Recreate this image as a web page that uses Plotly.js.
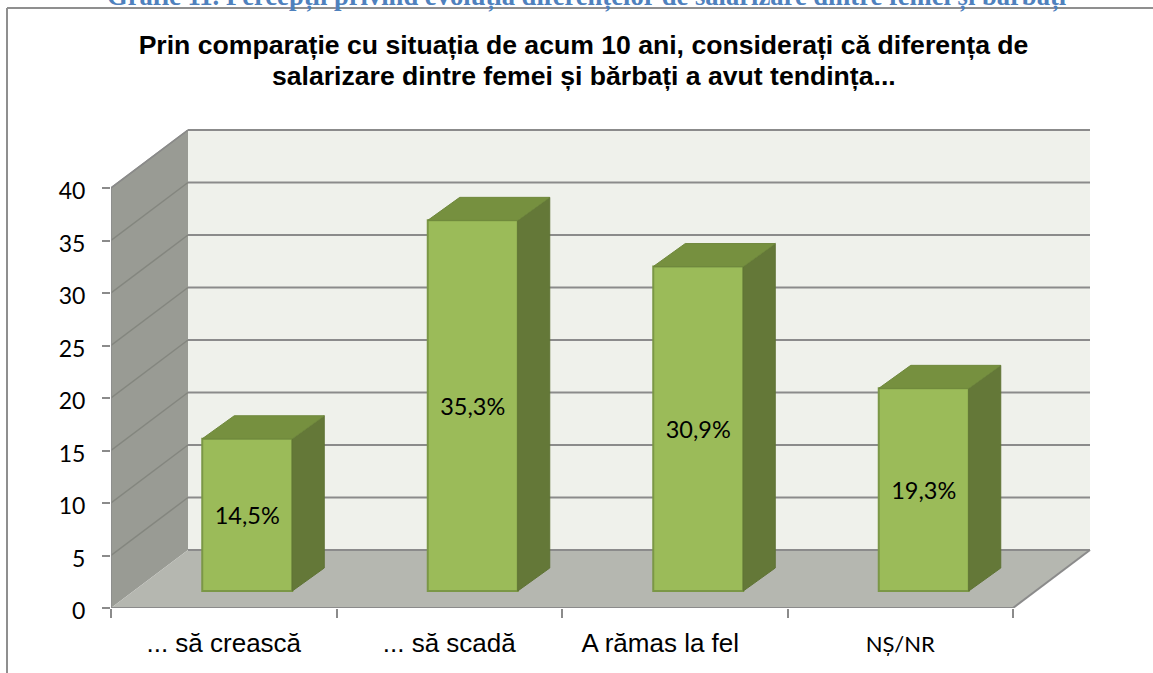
<!DOCTYPE html>
<html><head><meta charset="utf-8">
<script src="https://cdn.plot.ly/plotly-3.0.1.min.js"></script>
<style>html,body{margin:0;padding:0;background:#fff;overflow:hidden}#c{width:1153px;height:673px}</style>
</head><body><div id="c"></div>
<script>
var categories = ['... să crească', '... să scadă', 'A rămas la fel', 'NȘ/NR'];
var values = [14.5, 35.3, 30.9, 19.3];
var valueLabels = ['14,5%', '35,3%', '30,9%', '19,3%'];
var yTicks = [0, 5, 10, 15, 20, 25, 30, 35, 40];
var titleLine1 = 'Prin comparație cu situația de acum 10 ani, considerați că diferența de';
var titleLine2 = 'salarizare dintre femei și bărbați a avut tendința...';
var pageHeading = 'Grafic 11. Percepții privind evoluția diferențelor de salarizare dintre femei și bărbați';

// scale in pixels per unit, used to express the oblique projection
var PXX = 225.5, PXY = 10.5;
var L = 111, R = 1100, T = 120, B = 608, W = 1153, H = 673;
var depthX = 77 / PXX, depthY = 58 / PXY;       // wall depth in axis units
var barOffX = 23.5 / PXX, barOffY = 17 / PXY;   // bar front plane
var barDX = 32 / PXX, barDY = 23 / PXY;         // bar depth
var barW = 90 / PXX;
var yMax = 40, nCat = categories.length;

var AXIS = '#8b8b8b', WALLLINE = '#84867f';
function poly(pts, fill, line, lw) {
  return {type: 'path', xref: 'x', yref: 'y', layer: 'below',
    path: 'M' + pts.map(function (p) { return p[0] + ',' + p[1]; }).join('L') + 'Z',
    fillcolor: fill, line: {color: line || fill, width: lw === undefined ? 0 : lw}};
}
function seg(a, b, c, w) {
  return {type: 'line', xref: 'x', yref: 'y', layer: 'below', x0: a[0], y0: a[1], x1: b[0], y1: b[1], line: {color: c, width: w}};
}

var shapes = [];
// back wall
shapes.push(poly([[depthX, depthY], [nCat + depthX, depthY], [nCat + depthX, depthY + yMax], [depthX, depthY + yMax]], '#eff1eb'));
// side wall
shapes.push(poly([[0, 0], [depthX, depthY], [depthX, depthY + yMax], [0, yMax]], '#999b94'));
// floor
shapes.push(poly([[0, 0], [nCat, 0], [nCat + depthX, depthY], [depthX, depthY]], '#b5b7b0'));
yTicks.forEach(function (v) {
  if (v > 0) shapes.push(seg([0, v], [depthX, depthY + v], WALLLINE, 1.5));
  shapes.push(seg([depthX, depthY + v], [nCat + depthX, depthY + v], AXIS, 2));
});
shapes.push(seg([nCat, 0], [nCat + depthX, depthY], AXIS, 2));
// page frame: top and left rules
var fx = (7 - L) / (R - L), fyTop = (B - 8) / (B - T), fyBot = (B - H) / (B - T);
shapes.push({type: 'line', xref: 'paper', yref: 'paper', layer: 'below', x0: fx, x1: (W - L) / (R - L), y0: fyTop, y1: fyTop, line: {color: '#8f8f8f', width: 2}});
shapes.push({type: 'line', xref: 'paper', yref: 'paper', layer: 'below', x0: fx, x1: fx, y0: fyTop, y1: fyBot, line: {color: '#8f8f8f', width: 2}});

var traces = [];
var xFront = categories.map(function (c, i) { return i + 0.5 + barOffX; });
// front faces
traces.push({type: 'bar', x: xFront, y: values, base: barOffY, width: barW,
  marker: {color: '#9bbb59', line: {color: '#7b9746', width: 2}},
  text: valueLabels, textposition: 'inside', insidetextanchor: 'middle', textangle: 0,
  insidetextfont: {family: 'Lato, "Open Sans", sans-serif', size: 23.5, color: '#000'},
  cliponaxis: false, hoverinfo: 'skip'});
// side and top faces
values.forEach(function (v, i) {
  var x0 = xFront[i] - barW / 2, x1 = xFront[i] + barW / 2, y0 = barOffY, y1 = barOffY + v;
  traces.push({type: 'scatter', mode: 'lines', fill: 'toself', fillcolor: '#647838',
    x: [x1, x1 + barDX, x1 + barDX, x1, x1], y: [y0, y0 + barDY, y1 + barDY, y1, y0],
    line: {color: '#5f7335', width: 1}, hoverinfo: 'skip'});
  traces.push({type: 'scatter', mode: 'lines', fill: 'toself', fillcolor: '#76903f',
    x: [x0, x1, x1 + barDX, x0 + barDX, x0], y: [y1, y1, y1 + barDY, y1 + barDY, y1],
    line: {color: '#6f883c', width: 1}, hoverinfo: 'skip'});
});
// front edges of the box, may spill past the plot area
traces.push({type: 'scatter', mode: 'lines', x: [0, nCat], y: [0, 0], cliponaxis: false, line: {color: AXIS, width: 2}, hoverinfo: 'skip'});
traces.push({type: 'scatter', mode: 'lines', x: [0, 0], y: [0, yMax], cliponaxis: false, line: {color: AXIS, width: 1.5}, hoverinfo: 'skip'});
traces.push({type: 'scatter', mode: 'lines', x: [0, depthX], y: [yMax, depthY + yMax], cliponaxis: false, line: {color: AXIS, width: 1.5}, hoverinfo: 'skip'});

var tickText = categories.map(function (c, i) {
  if (c === 'NȘ/NR') return '<span style="font-family:Lato,\'Open Sans\',sans-serif;font-size:22px">' + c + '</span>';
  if (i === 2) return c + '\u00A0\u00A0\u00A0\u00A0';
  return c;
});

var SANS = '"Liberation Sans", Arial, sans-serif';
function paperY(py) { return (B - py) / (B - T); }
function paperX(px) { return (px - L) / (R - L); }
var layout = {
  width: W, height: H, showlegend: false, paper_bgcolor: '#fff', plot_bgcolor: 'rgba(0,0,0,0)',
  margin: {l: L, r: W - R, t: T, b: H - B, pad: 0},
  bargap: 0,
  title: {text: titleLine1, x: 583.5 / W, xref: 'container', xanchor: 'center', y: 1 - 35.5 / H, yanchor: 'top',
    font: {family: SANS, size: 26.6, color: '#000', weight: 'bold'}},
  xaxis: {range: [0, (R - L) / PXX], showgrid: false, zeroline: false, showline: false,
    tickmode: 'array', tickvals: categories.map(function (c, i) { return i + 0.5; }), ticktext: tickText,
    ticks: '', tickangle: 0, ticklabelstandoff: 17,
    tickfont: {family: SANS, size: 26, color: '#000'},
    minor: {tickmode: 'array', tickvals: categories.concat(['']).map(function (c, i) { return i; }), ticks: 'outside', ticklen: 9, tickwidth: 2, tickcolor: AXIS, showgrid: false}},
  yaxis: {range: [0, (B - T) / PXY], showgrid: false, zeroline: false, showline: false,
    tickmode: 'array', tickvals: yTicks, ticktext: yTicks.map(String),
    ticks: 'outside', ticklen: 8, tickwidth: 2, tickcolor: AXIS, ticklabelstandoff: 12, ticklabelshift: 3,
    tickfont: {family: 'Lato, "Open Sans", sans-serif', size: 23, color: '#000'}},
  shapes: shapes,
  annotations: [
    {text: '<b>' + titleLine2 + '</b>', xref: 'paper', yref: 'paper', x: paperX(583.5), y: paperY(93.5), yanchor: 'bottom', xanchor: 'center', showarrow: false,
      font: {family: SANS, size: 26.6, color: '#000'}},
    {text: '<b>' + pageHeading + '</b>', xref: 'paper', yref: 'paper', x: paperX(586), y: paperY(14), yanchor: 'bottom', xanchor: 'center', showarrow: false,
      font: {family: '"Liberation Serif", serif', size: 26.6, color: '#4f81bd'}}]
};
Plotly.newPlot('c', traces, layout, {displayModeBar: false, staticPlot: true});
</script></body></html>
